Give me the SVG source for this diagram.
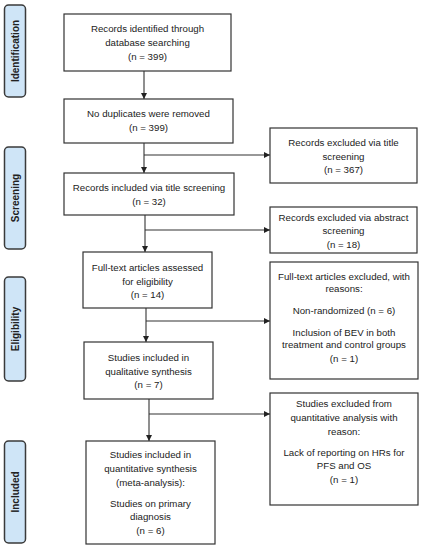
<svg xmlns="http://www.w3.org/2000/svg" width="424" height="550" viewBox="0 0 424 550">
<defs>
<marker id="ah" viewBox="0 0 10 10" refX="10" refY="5" markerWidth="6" markerHeight="6" markerUnits="userSpaceOnUse" orient="auto">
<path d="M0,0 L10,5 L0,10 z" fill="#222"/>
</marker>
<style>
.box{fill:#fff;stroke:#333;stroke-width:1.2}
.lab{fill:#cfe5f7;stroke:#3a3a3a;stroke-width:1.5}
.t{font-family:"Liberation Sans",Arial,sans-serif;font-size:9.7px;fill:#222;text-anchor:middle}
.s{font-family:"Liberation Sans",Arial,sans-serif;font-size:10px;font-weight:bold;fill:#222;text-anchor:middle}
.c{fill:none;stroke:#333;stroke-width:1.1}
</style>
</defs>
<rect width="424" height="550" fill="#fff"/>
<g id="stage-identification">
<rect class="lab" x="4.5" y="5" width="21" height="92" rx="4"/>
<text class="s" transform="translate(18.5,51) rotate(-90)">Identification</text>
</g>
<g id="stage-screening">
<rect class="lab" x="4.5" y="147" width="21" height="102" rx="4"/>
<text class="s" transform="translate(18.5,198) rotate(-90)">Screening</text>
</g>
<g id="stage-eligibility">
<rect class="lab" x="4.5" y="277" width="21" height="104" rx="4"/>
<text class="s" transform="translate(18.5,329) rotate(-90)">Eligibility</text>
</g>
<g id="stage-included">
<rect class="lab" x="4.5" y="441" width="21" height="102" rx="4"/>
<text class="s" transform="translate(18.5,492) rotate(-90)">Included</text>
</g>
<g id="connectors">
<line class="c" x1="144" y1="71" x2="144" y2="99" marker-end="url(#ah)"/>
<line class="c" x1="144" y1="143" x2="144" y2="173" marker-end="url(#ah)"/>
<line class="c" x1="144" y1="155" x2="270" y2="155" marker-end="url(#ah)"/>
<line class="c" x1="145" y1="215" x2="145" y2="252" marker-end="url(#ah)"/>
<line class="c" x1="145" y1="230" x2="270" y2="230" marker-end="url(#ah)"/>
<line class="c" x1="146" y1="308" x2="146" y2="342" marker-end="url(#ah)"/>
<line class="c" x1="146" y1="321" x2="270" y2="321" marker-end="url(#ah)"/>
<line class="c" x1="149" y1="399" x2="149" y2="441" marker-end="url(#ah)"/>
<line class="c" x1="149" y1="414" x2="270" y2="414" marker-end="url(#ah)"/>
</g>
<g id="n1">
<rect class="box" x="64" y="14" width="167" height="57"/>
<text class="t" x="147.5" y="31.5">Records identified through</text>
<text class="t" x="147.5" y="46">database searching</text>
<text class="t" x="147.5" y="59.5">(n = 399)</text>
</g>
<g id="n2">
<rect class="box" x="64" y="99" width="169" height="44"/>
<text class="t" x="148.5" y="117">No duplicates were removed</text>
<text class="t" x="148.5" y="131">(n = 399)</text>
</g>
<g id="n3">
<rect class="box" x="64" y="173" width="170" height="42"/>
<text class="t" x="149" y="190.5">Records included via title screening</text>
<text class="t" x="149" y="205">(n = 32)</text>
</g>
<g id="n4">
<rect class="box" x="83" y="252" width="129" height="56"/>
<text class="t" x="147.5" y="270.5">Full-text articles assessed</text>
<text class="t" x="147.5" y="284.5">for eligibility</text>
<text class="t" x="147.5" y="297.5">(n = 14)</text>
</g>
<g id="n5">
<rect class="box" x="84" y="342" width="129" height="57"/>
<text class="t" x="148.5" y="360.5">Studies included in</text>
<text class="t" x="148.5" y="374.5">qualitative synthesis</text>
<text class="t" x="148.5" y="387.5">(n = 7)</text>
</g>
<g id="n6">
<rect class="box" x="86" y="441" width="129" height="103"/>
<text class="t" x="150.5" y="457.5">Studies included in</text>
<text class="t" x="150.5" y="472">quantitative synthesis</text>
<text class="t" x="150.5" y="485.5">(meta-analysis):</text>
<text class="t" x="150.5" y="506.5">Studies on primary</text>
<text class="t" x="150.5" y="520">diagnosis</text>
<text class="t" x="150.5" y="533.5">(n = 6)</text>
</g>
<g id="r1">
<rect class="box" x="270" y="128" width="147" height="55"/>
<text class="t" x="343.5" y="145.5">Records excluded via title</text>
<text class="t" x="343.5" y="159.5">screening</text>
<text class="t" x="343.5" y="172.5">(n = 367)</text>
</g>
<g id="r2">
<rect class="box" x="270" y="207" width="147" height="46"/>
<text class="t" x="343.5" y="220.5">Records excluded via abstract</text>
<text class="t" x="343.5" y="234">screening</text>
<text class="t" x="343.5" y="247.5">(n = 18)</text>
</g>
<g id="r3">
<rect class="box" x="270" y="262" width="148" height="117"/>
<text class="t" x="344" y="279.5">Full-text articles excluded, with</text>
<text class="t" x="344" y="291.5">reasons:</text>
<text class="t" x="344" y="313.5">Non-randomized (n = 6)</text>
<text class="t" x="344" y="335.5">Inclusion of BEV in both</text>
<text class="t" x="344" y="348">treatment and control groups</text>
<text class="t" x="344" y="362">(n = 1)</text>
</g>
<g id="r4">
<rect class="box" x="270" y="393" width="148" height="112"/>
<text class="t" x="344" y="406.5">Studies excluded from</text>
<text class="t" x="344" y="420.5">quantitative analysis with</text>
<text class="t" x="344" y="434.5">reason:</text>
<text class="t" x="344" y="455.5">Lack of reporting on HRs for</text>
<text class="t" x="344" y="468.5">PFS and OS</text>
<text class="t" x="344" y="482.5">(n = 1)</text>
</g>
</svg>
